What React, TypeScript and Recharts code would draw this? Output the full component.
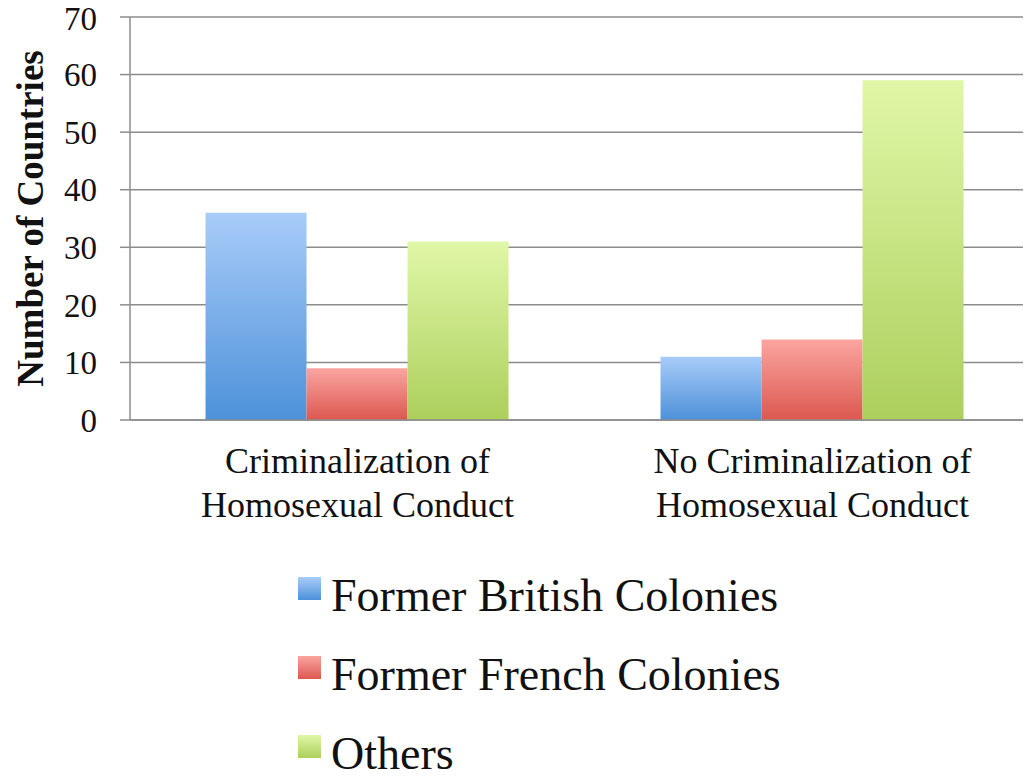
import { BarChart, Bar, XAxis, YAxis, CartesianGrid, Legend, Label } from 'recharts';

const categories = ['Criminalization of\nHomosexual Conduct', 'No Criminalization of\nHomosexual Conduct'];
const british = [36, 11];
const french = [9, 14];
const others = [31, 59];
const yTicks = [0, 10, 20, 30, 40, 50, 60, 70];

const seriesInfo = [
  { key: 'british', name: 'Former British Colonies', top: '#a8ccf9', bottom: '#4d91d9' },
  { key: 'french', name: 'Former French Colonies', top: '#fba5a0', bottom: '#dc5850' },
  { key: 'others', name: 'Others', top: '#e0f7a7', bottom: '#accf5c' }
];

const data = categories.map((c, i) => ({
  category: c,
  british: british[i],
  french: french[i],
  others: others[i]
}));

const FONT = '"Liberation Serif", "Times New Roman", serif';

const CategoryTick = ({ x, y, payload }: any) => {
  const lines = String(payload.value).split('\n');
  return (
    <text x={x} y={y} textAnchor="middle" fontFamily={FONT} fontSize={36} fill="#111">
      {lines.map((l, i) => (
        <tspan key={i} x={x} dy={i === 0 ? 45 : 44}>{l}</tspan>
      ))}
    </text>
  );
};

// legend drawn as rows under the plot, same order as the bars
const LegendContent = () => (
  <div style={{ position: 'relative', width: 1031, height: 224, fontFamily: FONT }}>
    {seriesInfo.map((s, i) => (
      <div key={s.key} style={{ position: 'absolute', left: 298, top: 18 + i * 79, height: 36 }}>
        <div
          style={{
            position: 'absolute',
            left: 0,
            top: -1,
            width: 23,
            height: 23,
            background: `linear-gradient(${s.top}, ${s.bottom})`
          }}
        />
        <span style={{ position: 'absolute', left: 33, top: 0, fontSize: 46, color: '#111', lineHeight: '36px', whiteSpace: 'nowrap' }}>
          {s.name}
        </span>
      </div>
    ))}
  </div>
);

export default function App() {
  return (
    <div style={{ margin: -8, width: 1031, height: 784, overflow: 'hidden', background: '#fff' }}>
      <BarChart
        width={1040}
        height={784}
        data={data}
        margin={{ top: 17, right: 0, left: 0, bottom: 0 }}
        barCategoryGap="16.6%"
        barGap={0}
      >
        <defs>
          {seriesInfo.map(s => (
            <linearGradient key={s.key} id={`grad-${s.key}`} x1="0" y1="0" x2="0" y2="1">
              <stop offset="0%" stopColor={s.top} />
              <stop offset="100%" stopColor={s.bottom} />
            </linearGradient>
          ))}
        </defs>
        <CartesianGrid vertical={false} stroke="#8c8c8c" strokeWidth={1.5} />
        <XAxis
          dataKey="category"
          height={140}
          tick={<CategoryTick />}
          tickLine={false}
          axisLine={{ stroke: '#8c8c8c', strokeWidth: 1.5 }}
          interval={0}
        />
        <YAxis
          width={130}
          domain={[0, 70]}
          ticks={yTicks}
          tickSize={10}
          tickMargin={23}
          tickLine={{ stroke: '#8c8c8c', strokeWidth: 1.5 }}
          axisLine={{ stroke: '#8c8c8c', strokeWidth: 1.5 }}
          tick={{ fontFamily: FONT, fontSize: 33, fill: '#111' }}
        >
          <Label
            content={({ viewBox }: any) => (
              <text
                x={30}
                y={viewBox.y + viewBox.height / 2}
                transform={`rotate(-90, 30, ${viewBox.y + viewBox.height / 2})`}
                textAnchor="middle"
                dominantBaseline="central"
                fontFamily={FONT}
                fontWeight="bold"
                fontSize={37}
                fill="#111"
              >
                Number of Countries
              </text>
            )}
          />
        </YAxis>
        <Legend verticalAlign="bottom" align="left" height={224} content={<LegendContent />} wrapperStyle={{ left: 0, width: 1031, height: 224 }} />
        {seriesInfo.map(s => (
          <Bar key={s.key} dataKey={s.key} name={s.name} fill={`url(#grad-${s.key})`} isAnimationActive={false} />
        ))}
      </BarChart>
    </div>
  );
}
